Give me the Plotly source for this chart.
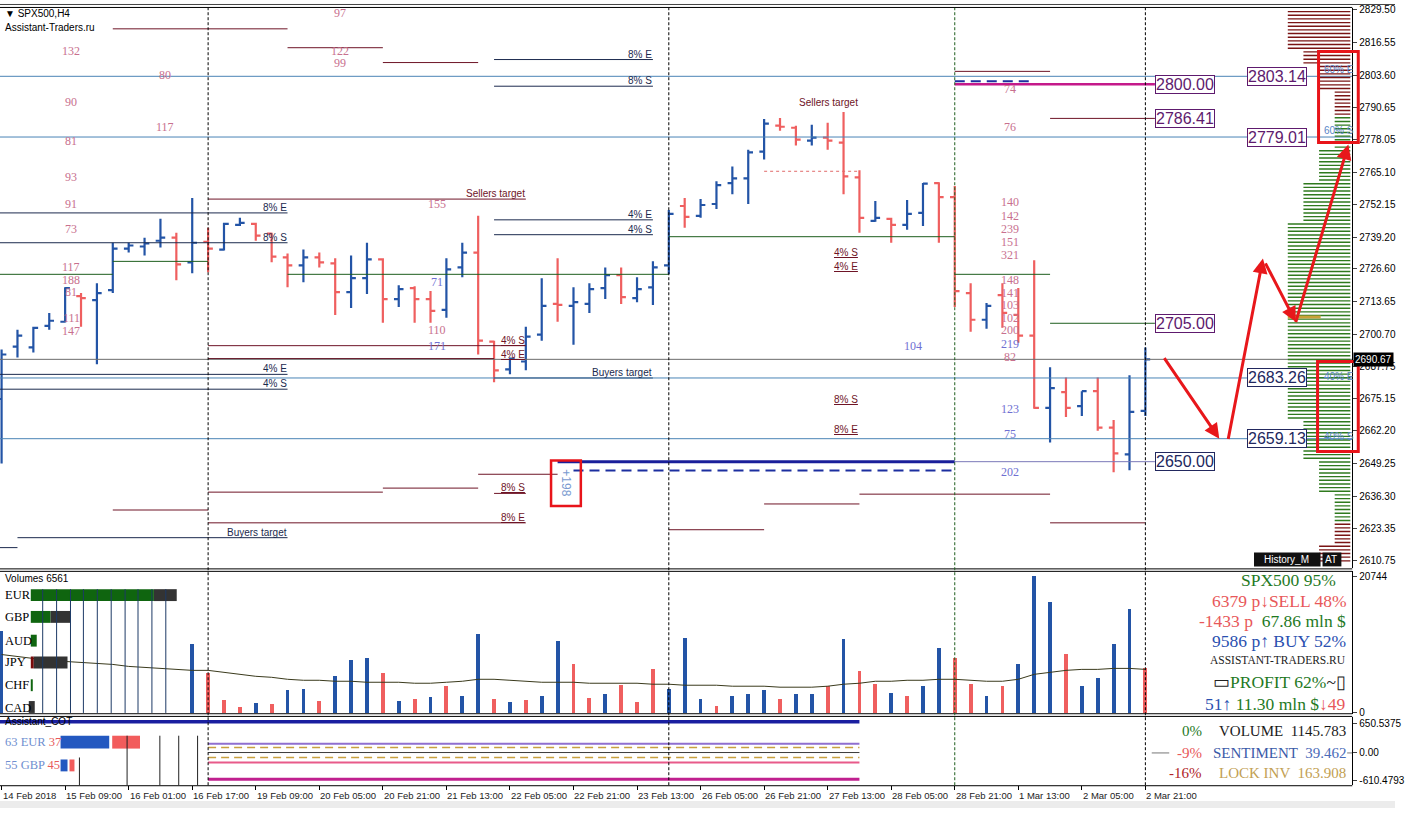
import plotly.graph_objects as go

W, H = 1405, 813
def px(x): return x / W
def py(y): return 1 - y / H

# ---------------- DATA ----------------
open_ = [2674.9, 2695.7, 2695.4, 2704.0, 2705.6, 2715.8, 2714.2, 2718.2, 2734.7, 2735.5,
         2737.8, 2739.0, 2729.2, 2737.4, 2734.3, 2744.1, 2744.5, 2740.6, 2731.2, 2728.0,
         2731.2, 2728.8, 2717.4, 2722.9, 2730.4, 2714.6, 2719.0, 2714.6, 2710.3, 2727.2,
         2733.1, 2697.7, 2686.7, 2689.8, 2700.5, 2712.7, 2711.9, 2712.7, 2719.0, 2724.1,
         2715.0, 2719.3, 2728.0, 2751.6, 2747.7, 2752.4, 2760.7, 2762.6, 2773.2, 2783.5,
         2782.7, 2777.6, 2778.8, 2776.8, 2763.0, 2745.7, 2746.5, 2744.1, 2748.9, 2760.7,
         2755.1, 2717.0, 2706.4, 2716.2, 2708.3, 2700.1, 2671.4, 2677.6, 2672.1, 2678.0,
         2663.5, 2652.9, 2670.2]
high = [2694.6, 2702.4, 2703.6, 2709.1, 2719.3, 2717.0, 2720.9, 2737.0, 2737.0, 2739.0,
        2746.5, 2741.0, 2754.8, 2743.0, 2744.9, 2746.9, 2744.9, 2741.0, 2732.7, 2734.3,
        2733.1, 2730.8, 2731.9, 2737.0, 2730.8, 2720.1, 2719.7, 2717.8, 2730.8, 2737.0,
        2747.7, 2698.1, 2691.4, 2703.6, 2722.9, 2730.8, 2719.3, 2720.9, 2727.2, 2727.2,
        2723.3, 2729.6, 2750.0, 2754.8, 2754.4, 2761.4, 2767.3, 2774.0, 2786.2, 2786.6,
        2783.5, 2783.9, 2784.7, 2789.0, 2765.8, 2753.6, 2746.9, 2754.0, 2760.7, 2761.0,
        2759.5, 2720.9, 2713.1, 2720.9, 2719.0, 2730.0, 2687.5, 2683.5, 2678.0, 2683.5,
        2666.6, 2684.3, 2695.4]
low = [2649.3, 2691.4, 2693.4, 2702.4, 2705.3, 2703.6, 2688.7, 2717.0, 2733.1, 2731.9,
       2735.1, 2722.1, 2724.9, 2725.3, 2733.9, 2743.7, 2737.8, 2729.2, 2719.3, 2721.3,
       2727.2, 2708.3, 2711.1, 2716.6, 2705.2, 2711.5, 2705.2, 2705.2, 2707.2, 2723.3,
       2692.6, 2681.6, 2684.7, 2686.3, 2698.1, 2705.6, 2696.5, 2709.1, 2714.6, 2712.7,
       2713.4, 2712.3, 2724.5, 2743.0, 2746.9, 2750.4, 2756.3, 2752.4, 2770.1, 2781.5,
       2775.6, 2775.6, 2774.0, 2756.3, 2741.0, 2745.3, 2737.0, 2742.2, 2743.7, 2737.0,
       2711.5, 2701.6, 2702.8, 2703.2, 2697.3, 2671.0, 2657.6, 2667.8, 2668.2, 2662.3,
       2645.8, 2646.6, 2668.2]
close = [2692.6, 2700.1, 2703.2, 2706.0, 2719.0, 2715.0, 2717.0, 2734.7, 2735.9, 2736.7,
         2739.0, 2728.4, 2737.0, 2734.7, 2744.5, 2744.9, 2739.8, 2731.5, 2728.0, 2731.2,
         2729.2, 2717.4, 2722.9, 2730.4, 2714.6, 2718.6, 2714.6, 2709.9, 2726.4, 2733.1,
         2698.1, 2686.3, 2691.0, 2699.7, 2711.9, 2712.3, 2713.4, 2718.6, 2724.1, 2715.4,
         2718.6, 2727.2, 2748.5, 2747.3, 2752.0, 2759.9, 2762.6, 2772.9, 2784.3, 2783.1,
         2778.0, 2778.8, 2777.6, 2763.4, 2746.9, 2746.9, 2744.1, 2748.5, 2760.5, 2755.1,
         2717.8, 2706.4, 2711.9, 2709.1, 2700.1, 2671.4, 2679.2, 2671.4, 2678.0, 2663.5,
         2653.3, 2669.8, 2690.67]

time_labels = ["14 Feb 2018", "15 Feb 09:00", "16 Feb 01:00", "16 Feb 17:00", "19 Feb 09:00",
               "20 Feb 05:00", "20 Feb 21:00", "21 Feb 13:00", "22 Feb 05:00", "22 Feb 21:00",
               "23 Feb 13:00", "26 Feb 05:00", "26 Feb 21:00", "27 Feb 13:00", "28 Feb 05:00",
               "28 Feb 21:00", "1 Mar 13:00", "2 Mar 05:00", "2 Mar 21:00"]

price_ticks = [2829.50, 2816.55, 2803.60, 2790.65, 2778.05, 2765.10, 2752.15, 2739.20, 2726.60,
               2713.65, 2700.70, 2687.75, 2675.15, 2662.20, 2649.25, 2636.30, 2623.35, 2610.75]
last_price = 2690.67

volume = [12300, None, None, None, None, None, None, None, None, None,
          None, None, 10350, 6000, 1950, 900, 1500, 1350, 3450, 3600,
          1800, 5550, 7950, 8250, 6000, 1800, 2100, 2400, 4050, 2550,
          11850, 2100, 1650, 1950, 2550, 10800, 7350, 2250, 2850, 4200,
          1650, 6600, 3600, 11250, 2100, 1050, 2550, 2850, 3450, 2100,
          2850, 2850, 4050, 11100, 6300, 4350, 3000, 2550, 4050, 9750,
          8250, 4350, 2550, 4050, 7350, 20700, 16800, 8850, 4050, 5250,
          10350, 15750, 6750]
volume_dir = ['up'] + ['up'] * 11 + ['up', 'down', 'down', 'down', 'up', 'down', 'up', 'up',
              'down', 'up', 'up', 'up', 'down', 'up', 'down', 'up', 'down', 'up',
              'up', 'down', 'up', 'down', 'up', 'up', 'down', 'down', 'up', 'down',
              'down', 'down', 'up', 'up', 'up', 'down', 'up', 'up', 'up', 'down',
              'up', 'up', 'down', 'up', 'down', 'down', 'up', 'down', 'up', 'up',
              'down', 'down', 'up', 'down', 'up', 'up', 'up', 'down', 'up', 'up',
              'up', 'up', 'down']
volume_ma = [8850, 8550, 8250, 7950, 7800, 7650, 7500, 7350, 7050, 6900,
             6750, 6600, 6450, 6450, 6150, 5850, 5550, 5400, 5100, 4950,
             4950, 4800, 4800, 4650, 4650, 4650, 4500, 4500, 4650, 4800,
             5100, 5100, 4950, 4800, 4650, 4650, 4650, 4500, 4500, 4500,
             4500, 4350, 4350, 4200, 4200, 4200, 4050, 4050, 4050, 3900,
             3900, 3900, 4050, 4350, 4500, 4800, 4800, 4950, 4950, 5100,
             5100, 4950, 4800, 4800, 5100, 5850, 6150, 6450, 6600, 6600,
             6750, 6750, 6600]

# levels: price, first bar, last bar, kind
level_price = [2822.0, 2814.5, 2808.6, 2809.8, 2803.14, 2799.2, 2805.1, 2800.00, 2801.2, 2786.41,
               2779.01, 2765.4, 2754.35, 2748.85, 2746.1, 2740.2, 2737.0, 2739.4, 2729.6, 2724.45,
               2724.45, 2724.45, 2705.00, 2696.1, 2690.67, 2691.0, 2684.7, 2683.26, 2683.26, 2678.8,
               2659.13, 2650.00, 2650.00, 2646.5, 2645.0, 2639.5, 2637.9, 2637.1, 2633.2, 2630.8,
               2625.7, 2625.7, 2622.96, 2619.8, 2615.85, 2637.4]
level_start = [7, 18, 24, 31, -2, 31, 60, 60, 60, 66,
               -2, 48, 13, -2, 31, 31, -2, 42, 7, -2,
               18, 60, 66, 13, -2, 13, -2, -2, 31, -2,
               -2, 35, 60, 36, 30, 24, 13, 54, 48, 7,
               13, 66, 42, 1, -2, 31]
level_end = [18, 24, 30, 41, 90, 41, 66, 72.6, 65, 72.6,
             90, 54, 33, 18, 41, 41, 18, 60, 13, 7,
             42, 66, 72.6, 33, 90, 31, 18, 90, 41, 18,
             90, 60, 72.6, 60, 35, 30, 24, 66, 54, 13,
             33, 72, 48, 18, 1, 33]
level_kind = ['maroon', 'maroon', 'maroon', 'navy', 'steel', 'navy', 'maroon', 'magenta', 'navydash', 'maroon',
              'steel', 'reddash', 'maroon', 'navy', 'navy', 'navy', 'navy', 'green', 'green', 'green',
              'green', 'green', 'green', 'maroon', 'bid', 'maroon', 'navy', 'steel', 'navy', 'navy',
              'steel', 'navythick', 'slate', 'navydash', 'maroon', 'maroon', 'maroon', 'maroon', 'maroon', 'maroon',
              'maroon', 'maroon', 'maroon', 'navy', 'navy', 'maroon']

# level labels: text, bar (right edge), price (line), kind
lab_text = ["8% E", "8% S", "8% E", "8% S", "4% E", "4% S", "Sellers target", "Sellers target",
            "<u>4% S</u>", "<u>4% E</u>", "<u>4% S</u>", "<u>4% E</u>", "4% E", "4% S", "Buyers target",
            "<u>8% S</u>", "<u>8% E</u>", "<u>8% S</u>", "<u>8% E</u>", "Buyers target"]
lab_bar = [41, 41, 18, 18, 41, 41, 33, 54, 54, 54, 33, 33, 18, 18, 41, 33, 33, 54, 54, 18]
lab_price = [2809.8, 2799.2, 2748.85, 2737.0, 2746.1, 2740.2, 2754.35, 2790.5,
             2731.0, 2725.2, 2696.1, 2690.3, 2684.7, 2678.8, 2683.26,
             2637.4, 2625.7, 2672.6, 2660.8, 2619.8]
lab_kind = ['navy', 'navy', 'navy', 'navy', 'navy', 'navy', 'maroon', 'maroon',
            'maroon', 'maroon', 'maroon', 'maroon', 'navy', 'navy', 'navy',
            'maroon', 'maroon', 'maroon', 'maroon', 'navy']

# numeric cluster labels
num_text = ["132", "90", "81", "93", "91", "73", "117", "188", "81", "111", "147",
            "80", "117", "97", "122", "99", "155", "110", "71", "171", "104",
            "74", "76", "140", "142", "239", "151", "321", "148", "141", "103", "102", "200",
            "219", "82", "123", "75", "202"]
num_bar = [4.4] * 11 + [10.3, 10.3, 21.3, 21.3, 21.3, 27.4, 27.4, 27.4, 27.4, 57.4] + [63.5] * 17
num_price = [2813.37, 2792.91, 2777.56, 2763.01, 2752.38, 2742.55, 2727.21, 2722.09, 2717.37, 2707.14, 2702.02,
             2803.53, 2783.07, 2828.32, 2813.37, 2808.25, 2752.38, 2702.42, 2721.30, 2696.12, 2696.12,
             2798.02, 2783.07, 2753.17, 2747.66, 2742.55, 2737.43, 2732.32, 2722.09, 2716.98, 2712.26,
             2707.14, 2702.42, 2696.91, 2691.79, 2670.94, 2661.09, 2645.75]
num_side = ['sell'] * 18 + ['buy', 'buy', 'buy'] + ['sell'] * 12 + ['buy', 'sell', 'buy', 'buy', 'buy']

# volume profile blocks (top price, units, side)
prof_top = [2830.0, 2813.4, 2807.9, 2798.0, 2788.0, 2774.4, 2761.4, 2744.5, 2667.0, 2650.9, 2637.5, 2625.6, 2616.6]
prof_units = [4, 3, 2, 1, 1, 2, 3, 4, 3, 2, 1, 1, 2]
prof_side = ['sell', 'sell', 'sell', 'sell', 'buy', 'buy', 'buy', 'buy', 'buy', 'buy', 'buy', 'sell', 'sell']
prof_poc = 2707.5

# COT indicator lines
cot_values = [208, 120, 9, -102, -212, -588]
cot_kind = ['purple', 'golddash', 'dark', 'golddash', 'pink', 'magenta']

# ---------------- STYLE ----------------
BLUE = '#2354a6'
RED = '#ef5f5f'
MAROON = '#6e1426'
NAVY = '#1b2a4e'
STEEL = '#4a84b6'
GREEN = '#1e5e1e'
styles = {
    'maroon': dict(color=MAROON, width=1),
    'navy': dict(color=NAVY, width=1),
    'steel': dict(color=STEEL, width=1),
    'green': dict(color=GREEN, width=1),
    'bid': dict(color='#6c6c6c', width=1),
    'magenta': dict(color='#c4198a', width=2.5),
    'navydash': dict(color='#1c2fa0', width=2, dash='10px,6px'),
    'navythick': dict(color='#1a1f9a', width=3),
    'slate': dict(color='#7a78b8', width=1),
    'reddash': dict(color='#e06a6a', width=1, dash='3px,3px'),
}
cot_styles = {
    'purple': dict(color='#8f6fd0', width=2),
    'golddash': dict(color='#c8a040', width=1.5, dash='8px,5px'),
    'dark': dict(color='#3a3a3a', width=1),
    'pink': dict(color='#e85a8a', width=2),
    'magenta': dict(color='#c0208f', width=3),
}

fig = go.Figure()

for kind, st in styles.items():
    xs, ys = [], []
    for p, s, e, k in zip(level_price, level_start, level_end, level_kind):
        if k == kind:
            xs += [s, e, None]
            ys += [p, p, None]
    if xs:
        fig.add_trace(go.Scatter(x=xs, y=ys, mode='lines', line=st, hoverinfo='skip',
                                 xaxis='x', yaxis='y', showlegend=False))

# volume profile lines
UNIT = 0.984
RIGHT = 84.9
for side, col in (('sell', '#7a1414'), ('buy', '#2f7a1e')):
    xs, ys = [], []
    lvl = 2610.6
    while lvl <= 2829.8:
        for i, top in enumerate(prof_top):
            bot = prof_top[i + 1] if i + 1 < len(prof_top) else 2600
            if bot < lvl <= top:
                if prof_side[i] == side:
                    xs += [RIGHT - prof_units[i] * UNIT, RIGHT, None]
                    ys += [lvl, lvl, None]
                break
        lvl += 1.455
    fig.add_trace(go.Scatter(x=xs, y=ys, mode='lines', line=dict(color=col, width=1.4),
                             hoverinfo='skip', xaxis='x', yaxis='y', showlegend=False))
fig.add_trace(go.Scatter(x=[RIGHT - 4 * UNIT, RIGHT - 2 * UNIT + 0.1], y=[prof_poc, prof_poc], mode='lines',
                         line=dict(color='#c9a23a', width=3), hoverinfo='skip', showlegend=False))

bars = list(range(len(close)))
fig.add_trace(go.Ohlc(x=bars, open=open_, high=high, low=low, close=close,
                      increasing=dict(line=dict(color=BLUE, width=2.2)),
                      decreasing=dict(line=dict(color=RED, width=2.2)),
                      tickwidth=0.3, hoverinfo='skip', showlegend=False, xaxis='x', yaxis='y'))

vcol = [BLUE if d == 'up' else RED for d in volume_dir]
fig.add_trace(go.Bar(x=bars, y=volume, marker=dict(color=vcol, line=dict(width=0)), width=0.24,
                     hoverinfo='skip', showlegend=False, xaxis='x2', yaxis='y2'))
fig.add_trace(go.Scatter(x=bars, y=volume_ma, mode='lines', line=dict(color='#3a3a1c', width=1),
                         hoverinfo='skip', showlegend=False, xaxis='x2', yaxis='y2'))

fig.add_trace(go.Scatter(x=[-2, 54], y=[695, 695], mode='lines', line=dict(color='#1a1fa0', width=3.5),
                         hoverinfo='skip', showlegend=False, xaxis='x3', yaxis='y3'))
for v, k in zip(cot_values, cot_kind):
    fig.add_trace(go.Scatter(x=[13, 54], y=[v, v], mode='lines', line=cot_styles[k],
                             hoverinfo='skip', showlegend=False, xaxis='x3', yaxis='y3'))
fig.add_trace(go.Scatter(x=[72.4, 73.5, None, 84.7, 90], y=[0, 0, None, 0, 0], mode='lines',
                         line=dict(color='#777', width=1),
                         hoverinfo='skip', showlegend=False, xaxis='x3', yaxis='y3'))

# ---------------- SHAPES ----------------
shapes = []
def pline(x0, y0, x1, y1, color='black', width=1, dash=None):
    d = dict(type='line', xref='paper', yref='paper', x0=px(x0), y0=py(y0), x1=px(x1), y1=py(y1),
             line=dict(color=color, width=width))
    if dash:
        d['line']['dash'] = dash
    shapes.append(d)
def prect(x0, y0, x1, y1, fill=None, color=None, width=0):
    d = dict(type='rect', xref='paper', yref='paper', x0=px(x0), y0=py(y0), x1=px(x1), y1=py(y1),
             line=dict(width=width, color=color or 'rgba(0,0,0,0)'))
    if fill:
        d['fillcolor'] = fill
    shapes.append(d)

pline(0, 1.5, 1405, 1.5, '#444', 1)
pline(0, 4.5, 1362, 4.5, 'black', 1)
pline(0, 571.5, 1362, 571.5, 'black', 1)
pline(0, 574, 1362, 574, 'black', 1)
pline(0, 717.8, 1362, 717.8, 'black', 1)
pline(0, 720.5, 1362, 720.5, 'black', 1)
pline(0, 790.5, 1362, 790.5, 'black', 1)
prect(0, 806, 1405, 813, fill='#ececec')

for b, c in ((13, 'black'), (42, 'black'), (60, '#1e5e1e'), (72, 'black')):
    shapes.append(dict(type='line', xref='x', yref='paper', x0=b, x1=b, y0=py(790), y1=py(5),
                       line=dict(color=c, width=1, dash='3px,2px')))

prect(1328, 49, 1368, 141, color='#e8141a', width=3)
prect(1327, 362, 1368, 453, color='#e8141a', width=3)
prect(555, 462, 585, 508, color='#e8141a', width=2.5)

prect(1263, 555, 1330, 569, fill='#111')
prect(1332, 555, 1351, 569, fill='#111')

cur_bars = [(592, 604, [(31, 155, '#0f650f'), (155, 178, '#333')]),
            (614, 626, [(31, 51, '#0f650f'), (51, 71, '#333')]),
            (638, 650, [(31, 37, '#0f650f')]),
            (660, 672, [(31, 34, '#7a0a0a'), (34, 68, '#333')]),
            (683, 695, [(31, 33, '#0f650f')]),
            (705, 717, [(29, 35, '#333')])]
for y0, y1, segs in cur_bars:
    for x0, x1, c in segs:
        prect(x0, y0, x1, y1, fill=c)
for xv in (43, 57, 71, 84, 98, 112, 126, 139, 153, 167):
    pline(xv, 592, xv, 717, '#1d3a66', 1)

prect(61, 740, 110, 753, fill='#2358c0')
prect(113, 740, 141, 753, fill='#f25c5c')
prect(61, 764, 68, 776, fill='#2358c0')
prect(70, 764, 75, 776, fill='#f25c5c')
pline(80, 762, 80, 790, '#222', 1)
for xv in (128, 161, 180, 199):
    pline(xv, 740, xv, 790, '#222', 1)

# ---------------- ANNOTATIONS ----------------
ann = []
def ptext(x, y, text, size=10, color='black', anchor='left', family='Liberation Sans', **kw):
    d = dict(xref='paper', yref='paper', x=px(x), y=py(y), text=text, showarrow=False,
             xanchor=anchor, yanchor='middle', font=dict(size=size, color=color, family=family),
             borderpad=0)
    d.update(kw)
    ann.append(d)

ptext(4, 11, "▼ SPX500,H4", 10)
ptext(4, 25, "Assistant-Traders.ru", 10)
ptext(4, 581, "Volumes 6561", 10)
ptext(4, 726, "Assistant_COT", 10)

for k, t in zip(range(0, 73, 4), time_labels):
    ann.append(dict(xref='x3', yref='paper', x=k, y=py(800), text=t, showarrow=False,
                    xanchor='left', yanchor='middle', xshift=0, borderpad=0,
                    font=dict(size=9.5, color='#222', family='Liberation Sans')))

for t, b, p, k in zip(lab_text, lab_bar, lab_price, lab_kind):
    ann.append(dict(xref='x', yref='y', x=b, y=p, text=t, showarrow=False, xanchor='right',
                    yanchor='bottom', yshift=-1, borderpad=0,
                    font=dict(size=10, color=NAVY if k == 'navy' else MAROON, family='Liberation Sans')))

for t, b, p, s in zip(num_text, num_bar, num_price, num_side):
    ann.append(dict(xref='x', yref='y', x=b, y=p, text=t, showarrow=False, xanchor='center',
                    yanchor='middle', borderpad=0,
                    font=dict(size=12, color='#c8708e' if s == 'sell' else '#6f6fd2',
                              family='Liberation Serif')))

def pbox(x, price, text, color):
    ann.append(dict(xref='paper', yref='y', x=px(x), y=price, text=text, showarrow=False,
                    xanchor='left', yanchor='middle', bgcolor='white', bordercolor=color,
                    borderwidth=1, borderpad=0,
                    font=dict(size=16, color=color, family='Liberation Sans')))
PURP = '#5e1a6e'
DNAVY = '#22285e'
pbox(1163, 2800.00, "2800.00", PURP)
pbox(1163, 2786.41, "2786.41", PURP)
pbox(1163, 2705.00, "2705.00", PURP)
pbox(1163, 2650.00, "2650.00", DNAVY)
pbox(1256, 2803.14, "2803.14", PURP)
pbox(1256, 2779.01, "2779.01", PURP)
pbox(1256, 2683.26, "2683.26", DNAVY)
pbox(1256, 2659.13, "2659.13", DNAVY)

for y, t in ((67, "60% E"), (129, "60% S"), (377, "40% E"), (438, "40% S")):
    ptext(1332, y, t, 10, '#5a86c8')

ptext(1296, 562, "History_M", 10, 'white', 'center')
ptext(1341, 562, "AT", 10, 'white', 'center')
ptext(570, 485, "+198", 12, '#7a9ad0', 'center', textangle=90)

ann.append(dict(xref='paper', yref='y', x=px(1363), y=last_price, text="2690.67", showarrow=False,
                xanchor='left', yanchor='middle', bgcolor='black', borderpad=1,
                font=dict(size=10, color='white', family='Liberation Sans')))

for hx, hy, tx, ty in ((1228, 440, 1172, 358), (1272, 258, 1237, 440),
                       (1305, 322, 1274, 262), (1358, 143, 1305, 322)):
    ann.append(dict(xref='paper', yref='paper', x=px(hx), y=py(hy), ax=tx - hx, ay=ty - hy,
                    text='', showarrow=True, arrowhead=2, arrowsize=1, arrowwidth=3,
                    arrowcolor='#e8171b', standoff=0))

for y, t in ((598, "EUR"), (620, "GBP"), (644, "AUD"), (666, "JPY"), (689, "CHF"), (712, "CAD")):
    ptext(4, y, t, 12.5, 'black', family='Liberation Serif')

G = '#1f7a1f'; R = '#e8585a'; B = '#2a50b0'
SERIF = 'Liberation Serif'
RX = 1357
ptext(1347, 583, "SPX500 95%", 17.5, G, 'right', SERIF)
ptext(RX, 604, "6379 p↓SELL 48%", 17.5, R, 'right', SERIF)
ptext(RX, 624, f"<span style='color:{R}'>-1433 p</span>  <span style='color:{G}'>67.86 mln $</span>", 17.5, G, 'right', SERIF)
ptext(RX, 644, "9586 p↑ BUY 52%", 17.5, B, 'right', SERIF)
ptext(RX, 664, "ASSISTANT-TRADERS.RU", 11.5, '#222', 'right', SERIF)
ptext(RX, 686, f"<span style='color:#222'>▭</span>PROFIT 62%<span style='color:#222'>~▯</span>", 17.5, G, 'right', SERIF)
ptext(RX, 708, f"<span style='color:{B}'>51↑</span> <span style='color:{G}'>11.30 mln $</span><span style='color:{R}'>↓49</span>", 17.5, G, 'right', SERIF)

ptext(1212, 735, "0%", 15, G, 'right', SERIF)
ptext(1212, 757, "-9%", 15, R, 'right', SERIF)
ptext(1212, 778, "-16%", 15, '#b02428', 'right', SERIF)
ptext(RX, 735, "VOLUME  1145.783", 15, '#1a1a1a', 'right', SERIF)
ptext(RX, 757, "<span style='color:#3a5aa8'>SENTIMENT</span>  <span style='color:#4a6ab8'>39.462</span>", 15, '#3a5aa8', 'right', SERIF)
ptext(RX, 778, "LOCK INV  163.908", 15, '#c2a052', 'right', SERIF)

ptext(4, 746, "<span style='color:#6f8fd0'>63 EUR</span> <span style='color:#e85a5a'>37</span>", 12.5, '#6f8fd0', family=SERIF)
ptext(4, 770, "<span style='color:#6f8fd0'>55 GBP</span> <span style='color:#e85a5a'>45</span>", 12.5, '#6f8fd0', family=SERIF)

# ---------------- LAYOUT ----------------
XR = [-0.1, 1362 / 16 - 0.1]
common_x = dict(domain=[0, px(1362)], range=XR, showgrid=False, zeroline=False,
                showticklabels=False, showline=False, fixedrange=True)
axfont = dict(size=10, color='black', family='Liberation Sans')
fig.update_layout(
    width=W, height=H, margin=dict(l=0, r=0, t=0, b=0),
    paper_bgcolor='white', plot_bgcolor='white', showlegend=False,
    font=dict(family='Liberation Sans'),
    xaxis=dict(**common_x, anchor='y', rangeslider=dict(visible=False)),
    xaxis2=dict(**common_x, anchor='y2', matches='x'),
    xaxis3=dict(**common_x, anchor='y3', matches='x', ticks='outside', ticklen=4, tickcolor='black',
                tickvals=list(range(0, 73, 4))),
    yaxis=dict(domain=[py(571), py(5)], range=[2607.6, 2830.3], side='right', anchor='x',
               tickvals=price_ticks, ticktext=[f"{v:.2f}" for v in price_ticks],
               ticks='outside', ticklen=4, showline=True, linecolor='black', tickfont=axfont,
               showgrid=False, zeroline=False, fixedrange=True),
    yaxis2=dict(domain=[py(718), py(574)], range=[-150, 21450], side='right', anchor='x2',
                tickvals=[20744, 0], ticktext=['20744', '0'], ticks='outside', ticklen=4,
                showline=True, linecolor='black', tickfont=axfont, showgrid=False, zeroline=False),
    yaxis3=dict(domain=[py(790), py(721)], range=[-721, 805], side='right', anchor='x3',
                tickvals=[650.5375, 0, -610.4793], ticktext=['650.5375', '0.00', '-610.4793'],
                ticks='outside', ticklen=4, showline=True, linecolor='black', tickfont=axfont,
                showgrid=False, zeroline=False),
    shapes=shapes, annotations=ann, bargap=0,
)

fig.write_html("out.html", config={'displayModeBar': False},
               post_script="document.body.style.margin='0';document.body.style.overflow='hidden';")
